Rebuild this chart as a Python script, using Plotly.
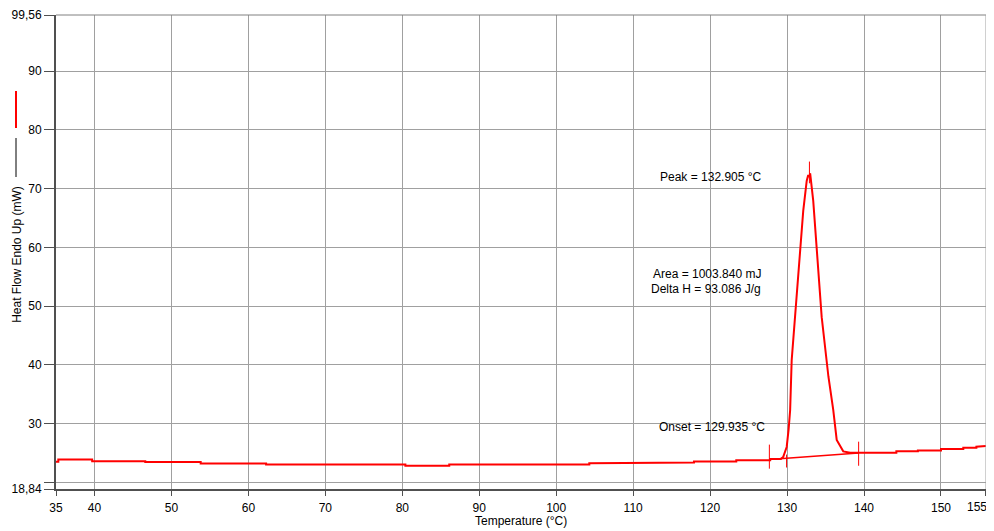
import plotly.graph_objects as go

# ---------------- data ----------------
temperature = [35.0, 35.3, 35.3, 39.7, 39.7, 46.6, 46.6, 53.8, 53.8, 62.3, 62.3,
               80.4, 80.4, 86.1, 86.1, 104.3, 104.3, 112.3, 112.3, 117.9, 117.9,
               123.4, 123.4, 127.8, 127.8, 129.2, 129.5, 129.95, 130.2, 130.4,
               130.6, 131.04, 131.69, 132.1, 132.55, 132.75, 132.9, 133.0, 133.4,
               133.86, 134.5, 135.37, 136.0, 136.45, 137.3, 138.2, 144.2, 144.2,
               147.0, 147.0, 150.0, 150.0, 152.9, 152.9, 154.6, 154.6, 155.84]
heat_flow = [23.5, 23.5, 23.85, 23.85, 23.58, 23.58, 23.42, 23.42, 23.2, 23.2, 23.02,
             23.02, 22.8, 22.8, 23.03, 23.03, 23.22, 23.22, 23.34, 23.34, 23.51,
             23.51, 23.73, 23.73, 23.97, 23.97, 24.3, 26.0, 29.0, 32.3,
             40.8, 48.1, 59.4, 66.2, 71.3, 72.3, 72.0, 72.6, 67.9,
             59.4, 48.1, 38.0, 32.3, 27.2, 25.25, 25.0, 25.0, 25.25,
             25.25, 25.4, 25.4, 25.66, 25.66, 25.88, 25.88, 26.05, 26.17]

baseline_temp = [127.7, 139.3]
baseline_flow = [23.85, 24.98]

marker_temp = [127.7, 129.935, 132.905, 139.3]
marker_low = [22.3, 22.5, 70.9, 22.8]
marker_high = [26.4, 24.7, 74.6, 26.9]

x_tick_vals = [35, 40, 50, 60, 70, 80, 90, 100, 110, 120, 130, 140, 150, 155.8]
x_tick_text = ["35", "40", "50", "60", "70", "80", "90", "100", "110", "120",
               "130", "140", "150", ""]
x_end_label = "155,"
y_tick_vals = [18.84, 20, 30, 40, 50, 60, 70, 80, 90, 99.56]
y_tick_text = ["18,84", "", "30", "40", "50", "60", "70", "80", "90", "99,56"]

peak_label = "Peak = 132.905 °C"
area_label = "Area = 1003.840 mJ"
delta_label = "Delta H = 93.086 J/g"
onset_label = "Onset = 129.935 °C"

# ---------------- figure ----------------
RED = "#ff0000"
FONT = "Liberation Sans, Arial, sans-serif"

fig = go.Figure()

fig.add_trace(go.Scatter(x=temperature, y=heat_flow, mode="lines",
                         line=dict(color=RED, width=2), hoverinfo="skip"))
fig.add_trace(go.Scatter(x=baseline_temp, y=baseline_flow, mode="lines",
                         line=dict(color=RED, width=1.5), hoverinfo="skip"))

mx, my = [], []
for t, lo, hi in zip(marker_temp, marker_low, marker_high):
    mx += [t, t, None]
    my += [lo, hi, None]
fig.add_trace(go.Scatter(x=mx, y=my, mode="lines",
                         line=dict(color=RED, width=1), hoverinfo="skip"))

axis_common = dict(
    showgrid=True, gridcolor="#a0a0a0", gridwidth=1,
    showline=True, linecolor="#505050", linewidth=2,
    ticks="outside", tickcolor="#505050", tickwidth=1,
    tickfont=dict(family=FONT, size=12, color="#000000"),
    zeroline=False, mirror=False, automargin=False,
)

fig.update_xaxes(range=[35, 155.85], tickmode="array", tickvals=x_tick_vals,
                 ticktext=x_tick_text, ticklen=5, ticklabelstandoff=2,
                 **axis_common)
fig.update_yaxes(range=[18.84, 99.56], tickmode="array", tickvals=y_tick_vals,
                 ticktext=y_tick_text, ticklen=10, ticklabelstandoff=0,
                 **axis_common)

ann_font = dict(family=FONT, size=12, color="#000000")
annotations = [
    dict(x=120.13, y=72.03, text=peak_label),
    dict(x=119.6, y=55.42, text=area_label),
    dict(x=119.5, y=52.88, text=delta_label),
    dict(x=120.2, y=29.44, text=onset_label),
]
for a in annotations:
    a.update(xref="x", yref="y", showarrow=False, font=ann_font,
             xanchor="center", yanchor="middle")

# last (truncated) x tick label, kept inside the page
annotations.append(dict(xref="paper", yref="paper", x=1.0065, y=-0.038,
                        text=x_end_label, showarrow=False, font=ann_font,
                        xanchor="right", yanchor="middle"))
# axis titles
annotations.append(dict(xref="paper", yref="paper", x=0.5, y=-0.0675,
                        text="Temperature (°C)", showarrow=False, font=ann_font,
                        xanchor="center", yanchor="middle"))
annotations.append(dict(xref="paper", yref="paper", x=-0.042, y=0.496,
                        text="Heat Flow Endo Up (mW)", textangle=-90,
                        showarrow=False, font=ann_font,
                        xanchor="center", yanchor="middle"))

shapes = [
    # legend swatches at the left
    dict(type="line", xref="paper", yref="paper", x0=-0.043, x1=-0.043,
         y0=0.8397, y1=0.7616, line=dict(color=RED, width=2)),
    dict(type="line", xref="paper", yref="paper", x0=-0.043, x1=-0.043,
         y0=0.7405, y1=0.6582, line=dict(color="#000000", width=1)),
    # top and right frame
    dict(type="line", xref="paper", yref="paper", x0=0, x1=1, y0=1, y1=1,
         line=dict(color="#808080", width=1)),
    dict(type="line", xref="paper", yref="paper", x0=1, x1=1, y0=0, y1=1,
         line=dict(color="#a0a0a0", width=1)),
]

# The page body has an 8px margin, so the figure is sized/margined to compensate.
fig.update_layout(
    width=986, height=523,
    margin=dict(l=48, r=8, t=7, b=42, autoexpand=False),
    paper_bgcolor="#ffffff", plot_bgcolor="#ffffff",
    showlegend=False,
    font=dict(family=FONT, size=12, color="#000000"),
    annotations=annotations,
    shapes=shapes,
)

fig.write_html("out.html")
